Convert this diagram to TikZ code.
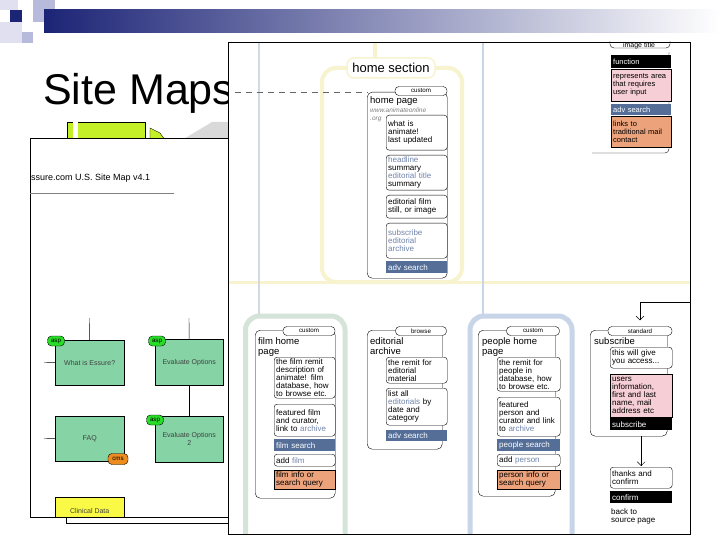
\documentclass[tikz,border=0pt]{standalone}
\usepackage{fontspec}
\setmainfont{Liberation Sans}
\usetikzlibrary{arrows.meta}

\definecolor{navy}{RGB}{28,36,118}
\definecolor{lavender}{RGB}{184,186,220}
\definecolor{palelav}{RGB}{224,224,240}
\definecolor{barblue}{RGB}{84,110,152}
\definecolor{linkblue}{RGB}{112,132,170}
\definecolor{inputpink}{RGB}{246,206,214}
\definecolor{mailorange}{RGB}{236,162,122}
\definecolor{yellowframe}{RGB}{246,243,206}
\definecolor{greenframe}{RGB}{212,228,216}
\definecolor{blueframe}{RGB}{200,212,232}
\definecolor{stemgray}{RGB}{208,218,224}
\definecolor{mint}{RGB}{134,212,166}
\definecolor{aspgreen}{RGB}{40,220,40}
\definecolor{cmsorange}{RGB}{236,140,30}
\definecolor{lime}{RGB}{196,240,40}
\definecolor{clinyellow}{RGB}{250,250,70}

\newcommand\mapboxfont{\fontsize{8}{8}\selectfont}
\newcommand\maplegfont{\fontsize{7.5}{8}\selectfont}
\newcommand\mappillfont{\fontsize{6.2}{7}\selectfont}
\newcommand\mapheadfont{\fontsize{9.5}{10}\selectfont}
\newcommand\mappagefont{\fontsize{7}{8}\selectfont}
\newcommand\mapurlfont{\fontsize{6.5}{8}\selectfont}

\tikzset{
  sub/.style={draw, fill=white, rounded corners=3pt, anchor=north west, align=left,
    inner xsep=2pt, inner ysep=1pt, text width=57pt, font=\mapboxfont},
  bar/.style={fill=barblue, text=white, anchor=north west, align=left,
    inner xsep=2pt, inner ysep=0pt, text width=57pt, font=\mapboxfont},
  blackbar/.style={bar, fill=black},
  inbox/.style={draw, fill=inputpink, anchor=north west, align=left,
    inner xsep=2pt, inner ysep=1pt, text width=57pt, font=\mapboxfont},
  mailbox/.style={inbox, fill=mailorange},
  pill/.style={draw, fill=white, rounded corners=4pt, inner sep=0pt, minimum height=9pt, font=\mappillfont},
  bracket/.style={draw, rounded corners=5pt, anchor=north west, inner sep=0pt},
  head/.style={anchor=north west, inner sep=0pt, align=left, font=\mapheadfont},
  pagebox/.style={draw, fill=mint, anchor=north west, inner sep=1pt, align=center,
    text=black!75, font=\mappagefont},
  typetag/.style={draw, rounded corners=4pt, inner sep=0pt, minimum width=17pt,
    minimum height=10pt, font=\mappillfont},
  barb/.style={-{Straight Barb[length=4pt,width=8pt]}}
}

\begin{document}
\begin{tikzpicture}[x=1pt,y=-1pt]
\useasboundingbox (0,0) rectangle (720,540);

\fill[palelav] (0,0) rectangle (18,10);
\fill[lavender] (33,0) rectangle (55,22);
\fill[navy] (10,10) rectangle (22,22);
\fill[palelav] (0,22) rectangle (22,43);
\fill[lavender] (22,32) rectangle (33,43);
\shade[left color=navy, right color=white] (44,10) rectangle (720,33);

\node[anchor=base west, inner sep=0pt, font=\fontsize{43}{43}\selectfont] (title) at (43,105) {Site Maps};

\begin{scope}
\clip (0,115) rectangle (228,138);
\draw[fill=lime] (67,122) rectangle (145,140);
\fill[white] (73,122.5) rectangle (78,140);
\draw[fill=lime] (150,128) -- (160,133) -- (165,140) -- (150,140) -- cycle;
\fill[black!15] (182,140) -- (212,122) -- (228,122) -- (228,140) -- cycle;
\end{scope}

% essure map
\draw[fill=white] (30,138) rectangle (228,517);
\node[anchor=west, inner sep=0pt, font=\fontsize{9}{9}\selectfont] (maptitle) at (31,178) {ssure.com U.S. Site Map v4.1};
\draw[gray] (30,193) -- (174,193);

\node[pagebox, minimum width=69pt, minimum height=45pt] (essurewhat) at (55,340) {What is Essure?};
\node[pagebox, minimum width=68pt, minimum height=46pt] (evalone) at (155,339) {Evaluate Options};
\node[pagebox, minimum width=68pt, minimum height=46pt] (evaltwo) at (155,416) {Evaluate Options\\2};
\node[pagebox, minimum width=69pt, minimum height=45pt] (faq) at (55,416) {FAQ};
\node[pagebox, fill=clinyellow, minimum width=69pt, minimum height=20pt, text height=15pt, text depth=2pt] (clinical) at (55,497) {Clinical Data};

\coordinate (stemwhat) at (89.5,318);
\coordinate (stemeval) at (189,318);
\coordinate (stubwhat) at (44,362.5);
\coordinate (stubfaq) at (44,438.5);
\draw (stemwhat) -- (essurewhat.north);
\draw (stemeval) -- (evalone.north);
\draw (evalone) -- (evaltwo);
\draw (stubwhat) -- (essurewhat.west);
\draw (stubfaq) -- (faq.west);

\node[typetag, fill=aspgreen] (aspwhat) at (56,341) {asp};
\node[typetag, fill=aspgreen] (aspeval) at (157,341) {asp};
\node[typetag, fill=aspgreen] (aspevaltwo) at (155,420) {asp};
\node[typetag, fill=cmsorange, minimum width=20pt, minimum height=11pt] (cmsfaq) at (118,459) {cms};

\coordinate (clinfoot) at (66,517);
\coordinate (mapexit) at (228,523);
\draw (clinfoot) |- (mapexit);

% animate site map
\fill[white] (228,42) rectangle (690,534);
\begin{scope}
\clip (228,42) rectangle (690,534);
\draw[yellowframe, line width=3pt] (228,282) -- (690,282);
\draw[yellowframe, line width=4pt, rounded corners=14pt] (322,68) rectangle (462,282);
\draw[yellowframe, line width=4pt] (375,42) -- (375,62);
\draw[stemgray, line width=2pt] (259,42) -- (259,316);
\draw[greenframe, line width=5pt, rounded corners=14pt] (245.5,316) rectangle (345,580);
\draw[blueframe, line width=2pt] (483,42) -- (483,316);
\draw[blueframe, line width=5pt, rounded corners=14pt] (470,316) rectangle (572,580);

\node[draw=yellowframe, line width=1.5pt, fill=white, rounded corners=7pt, minimum width=88pt,
  minimum height=20pt, inner sep=0pt, font=\fontsize{13}{13}\selectfont] (homesec) at (391,68) {home section};

% legend
\node[pill, minimum width=60pt, minimum height=16pt] (legpill) at (640,40) {};
\node[inner sep=0pt, font=\fontsize{7}{7}\selectfont] (legtitle) at (639,46) {image title};
\draw[rounded corners=4pt] (592,153) -- (669,153) -- (669,52);
\node[blackbar, text width=56pt, minimum height=13pt, font=\maplegfont] (legfunc) at (611,55) {function};
\node[inbox, text width=56pt, minimum height=32pt, font=\maplegfont] (leginput) at (611,69) {represents area\\that requires\\user input};
\node[bar, text width=56pt, minimum height=11pt, font=\maplegfont] (legadv) at (611,104) {adv search};
\node[mailbox, text width=56pt, minimum height=31pt, font=\maplegfont] (legmail) at (611,116) {links to\\traditional mail\\contact};

% home
\node[bracket, minimum width=80pt, minimum height=186pt] (homepage) at (367,92) {};
\node[pill, minimum width=52pt] (homecustom) at (421,91) {custom};
\node[head] (hometitle) at (370,96) {home page};
\node[anchor=north west, inner sep=0pt, align=left, text=gray, font=\mapurlfont] (homeurl) at (370,108) {\textit{www.animateonline}\\\textit{.org}};
\node[sub, minimum height=35pt] (homewhat) at (386,115) {what is\\animate!\\last updated};
\node[sub, minimum height=35pt] (homeheadline) at (386,155) {\textcolor{linkblue}{headline}\\summary\\\textcolor{linkblue}{editorial title}\\summary};
\node[sub, minimum height=23pt] (homestill) at (386,195) {editorial film\\still, or image};
\node[sub, minimum height=35pt, text=linkblue] (homesub) at (386,223) {subscribe\\editorial\\archive};
\node[bar, minimum height=12pt] (homeadv) at (386,261) {adv search};

% film
\node[bracket, minimum width=80pt, minimum height=168pt] (filmpage) at (255,330) {};
\node[pill, minimum width=52pt] (filmcustom) at (309,331) {custom};
\node[head] (filmtitle) at (258,337) {film home\\page};
\node[sub, minimum height=41pt] (filmremit) at (274,357) {the film remit\\description of\\animate! film\\database, how\\to browse etc.};
\node[sub, minimum height=32pt] (filmfeat) at (274,404) {featured film\\and curator,\\link to \textcolor{linkblue}{archive}};
\node[bar, minimum height=12pt] (filmsearch) at (274,439) {film search};
\node[sub, minimum height=12pt] (filmadd) at (274,454) {add \textcolor{linkblue}{film}};
\node[mailbox, minimum height=19pt] (filminfo) at (274,470) {film info or\\search query};

% editorial
\node[bracket, minimum width=75pt, minimum height=119pt] (edpage) at (367,330) {};
\node[pill, minimum width=51pt] (edbrowse) at (421,331) {browse};
\node[head] (edtitle) at (370,337) {editorial\\archive};
\node[sub, minimum height=26pt] (edremit) at (386,357) {the remit for\\editorial\\material};
\node[sub, minimum height=37pt] (edlist) at (386,388) {list all\\\textcolor{linkblue}{editorials} by\\date and\\category};
\node[bar, minimum height=11pt] (edadv) at (386,430) {adv search};

% people
\node[bracket, minimum width=77pt, minimum height=166pt] (peoplepage) at (478,330) {};
\node[pill, minimum width=53pt] (peoplecustom) at (533,331) {custom};
\node[head] (peopletitle) at (482,337) {people home\\page};
\node[sub, text width=59pt, minimum height=34pt] (peopleremit) at (497,357) {the remit for\\people in\\database, how\\to browse etc.};
\node[sub, text width=59pt, minimum height=39pt] (peoplefeat) at (497,397) {featured\\person and\\curator and link\\to \textcolor{linkblue}{archive}};
\node[bar, text width=59pt, minimum height=12pt] (peoplesearch) at (497,439) {people search};
\node[sub, text width=59pt, minimum height=12pt] (peopleadd) at (497,454) {add \textcolor{linkblue}{person}};
\node[mailbox, text width=59pt, minimum height=19pt] (peopleinfo) at (497,470) {person info or\\search query};

% subscribe
\node[bracket, minimum width=77pt, minimum height=106pt] (subpage) at (590,330) {};
\node[pill, minimum width=64pt] (substd) at (640,331) {standard};
\node[head] (subtitle) at (594,337) {subscribe};
\node[sub, text width=58pt, minimum height=21pt] (subgive) at (610,347) {this will give\\you access...};
\node[inbox, text width=58pt, minimum height=43pt] (subusers) at (610,374) {users\\information,\\first and last\\name, mail\\address etc};
\node[blackbar, text width=58pt, minimum height=12pt] (subbtn) at (610,418) {subscribe};
\node[sub, text width=58pt, minimum height=21pt] (subthanks) at (610,467) {thanks and\\confirm};
\node[blackbar, text width=58pt, minimum height=12pt] (subconfirm) at (610,491) {confirm};
\node[anchor=north west, inner sep=0pt, align=left, font=\mapboxfont] (subback) at (611,508) {back to\\source page};

\coordinate (subentry) at (690,302);
\draw[barb] (subentry) -| ([yshift=6pt]substd.north);
\draw[barb, shorten >=1pt] (subpage.south -| subthanks.north) -- (subthanks.north);
\end{scope}
\draw (228,42) rectangle (690,534);

\draw[dashed, black!60, dash pattern=on 6pt off 5pt] (homepage.north west -| title.east) -- (homepage.north west);
\end{tikzpicture}
\end{document}
